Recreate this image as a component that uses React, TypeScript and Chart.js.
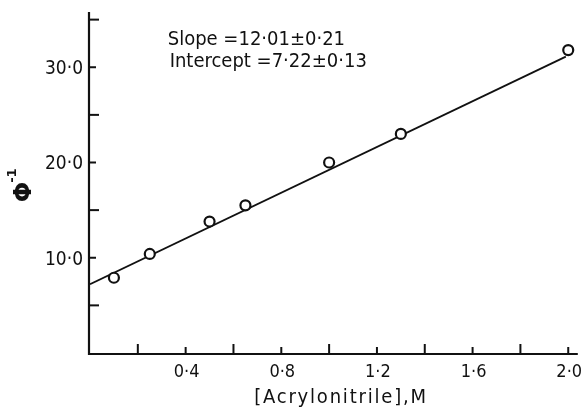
import React, { useEffect, useRef } from "react";
import { Chart, registerables } from "chart.js";

Chart.register(...registerables);

// ---- Data ----
const concentrations = [0.1, 0.25, 0.5, 0.65, 1.0, 1.3, 2.0];
const inverseYield = [7.9, 10.4, 13.8, 15.5, 20.0, 23.0, 31.8];

const fitX = [0, 1.99];
const fitY = [7.22, 31.12];

const xTickValues = [0.2, 0.4, 0.6, 0.8, 1.0, 1.2, 1.4, 1.6, 1.8, 2.0];
const xTickLabels = ["", "0·4", "", "0·8", "", "1·2", "", "1·6", "", "2·0"];
const yTickValues = [5, 10, 15, 20, 25, 30, 35];
const yTickLabels = ["", "10·0", "", "20·0", "", "30·0", ""];

const annotationLines = ["Slope =12·01±0·21", "Intercept =7·22±0·13"];
const xTitle = "[Acrylonitrile],M";
const yTitleMain = "Φ";
const yTitleSup = "-1";

const FONT = '"DejaVu Sans Condensed", "DejaVu Sans", sans-serif';
const INK = "#111";

const axesPlugin = {
  id: "paperAxes",
  afterDraw(chart: any) {
    const ctx = chart.ctx as CanvasRenderingContext2D;
    const xs = chart.scales.x;
    const ys = chart.scales.y;
    const area = chart.chartArea;
    const x0 = xs.getPixelForValue(0) - 1;
    const y0 = ys.getPixelForValue(0) + 1;
    ctx.save();
    ctx.strokeStyle = INK;
    ctx.fillStyle = INK;
    ctx.lineWidth = 2.2;
    ctx.lineCap = "butt";
    // axis lines
    ctx.beginPath();
    ctx.moveTo(x0, area.top);
    ctx.lineTo(x0, y0 + 1);
    ctx.moveTo(x0 - 1, y0);
    ctx.lineTo(area.right, y0);
    ctx.stroke();

    // x ticks (inward)
    ctx.lineWidth = 2;
    xTickValues.forEach((v, i) => {
      const px = xs.getPixelForValue(v);
      const len = xTickLabels[i] ? 7 : 10;
      ctx.beginPath();
      ctx.moveTo(px, y0);
      ctx.lineTo(px, y0 - len);
      ctx.stroke();
    });
    // y ticks (inward)
    yTickValues.forEach((v, i) => {
      const py = ys.getPixelForValue(v);
      const len = yTickLabels[i] ? 7 : 10;
      ctx.beginPath();
      ctx.moveTo(x0, py);
      ctx.lineTo(x0 + len, py);
      ctx.stroke();
    });

    // tick labels
    ctx.font = `18px ${FONT}`;
    (ctx as any).letterSpacing = "0px";
    ctx.textAlign = "center";
    ctx.textBaseline = "middle";
    xTickValues.forEach((v, i) => {
      if (!xTickLabels[i]) return;
      ctx.fillText(xTickLabels[i], xs.getPixelForValue(v) + 1, y0 + 18);
    });
    ctx.font = `19px ${FONT}`;
    ctx.textAlign = "right";
    yTickValues.forEach((v, i) => {
      if (!yTickLabels[i]) return;
      ctx.fillText(yTickLabels[i], x0 - 6, ys.getPixelForValue(v) + 2);
    });

    // x title
    ctx.textAlign = "center";
    ctx.font = `20px ${FONT}`;
    (ctx as any).letterSpacing = "1.8px";
    ctx.fillText(xTitle, 341, y0 + 44);

    // annotation
    ctx.textAlign = "left";
    ctx.textBaseline = "alphabetic";
    ctx.font = `20px ${FONT}`;
    (ctx as any).letterSpacing = "0px";
    ctx.fillText(annotationLines[0], xs.getPixelForValue(0.325), ys.getPixelForValue(32.33));
    ctx.fillText(annotationLines[1], xs.getPixelForValue(0.333), ys.getPixelForValue(30.0));

    // y title, rotated
    ctx.save();
    ctx.translate(25, ys.getPixelForValue(16.9));
    ctx.rotate(-Math.PI / 2);
    ctx.textAlign = "center";
    ctx.textBaseline = "middle";
    ctx.font = `bold 24px "DejaVu Sans", sans-serif`;
    ctx.fillText(yTitleMain, 0, 0);
    const w = ctx.measureText(yTitleMain).width;
    ctx.font = `bold 13px "DejaVu Sans", sans-serif`;
    ctx.textAlign = "left";
    ctx.fillText(yTitleSup, w / 2 - 1, -12);
    ctx.restore();

    ctx.restore();
  },
};

export default function App() {
  const canvasRef = useRef<HTMLCanvasElement | null>(null);

  useEffect(() => {
    if (!canvasRef.current) return;
    const chart = new Chart(canvasRef.current, {
      type: "scatter",
      data: {
        datasets: [
          {
            label: "Measured",
            data: concentrations.map((x, i) => ({ x, y: inverseYield[i] })),
            pointStyle: "circle",
            pointRadius: 5,
            pointBorderWidth: 2.2,
            pointBackgroundColor: "#fff",
            pointBorderColor: INK,
            showLine: false,
            order: 0,
          },
          {
            label: "Fit",
            data: fitX.map((x, i) => ({ x, y: fitY[i] })),
            showLine: true,
            borderColor: INK,
            borderWidth: 1.8,
            pointRadius: 0,
            order: 1,
          } as any,
        ],
      },
      options: {
        animation: false,
        responsive: true,
        maintainAspectRatio: false,
        layout: { padding: { left: 90, right: 7, top: 12, bottom: 55 } },
        plugins: { legend: { display: false }, tooltip: { enabled: false } },
        scales: {
          x: { type: "linear", min: 0, max: 2.04, display: false },
          y: { type: "linear", min: 0, max: 35.8, display: false },
        },
      },
      plugins: [axesPlugin],
    });
    return () => chart.destroy();
  }, []);

  return (
    <div style={{ position: "absolute", left: 0, top: 0, width: 585, height: 408, background: "#fff" }}>
      <canvas ref={canvasRef} />
    </div>
  );
}
